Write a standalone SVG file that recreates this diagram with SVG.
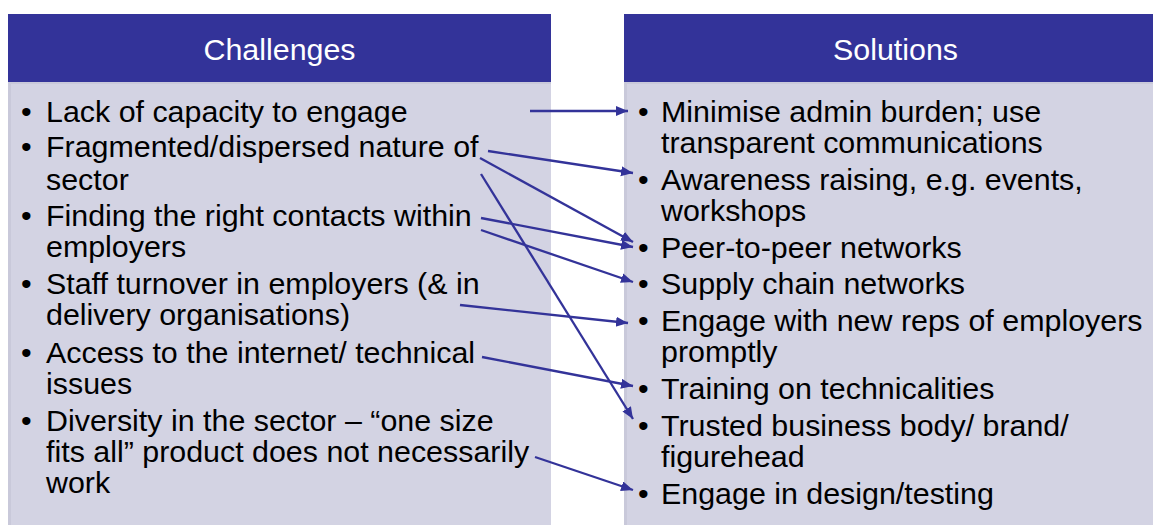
<svg xmlns="http://www.w3.org/2000/svg" width="1153" height="525" viewBox="0 0 1153 525">
  <defs>
    <style>
      .head { fill: #333399; }
      .body { fill: #D3D3E3; }
      .edge { fill: #C9C9DA; }
      .title { font-family: "Liberation Sans", Arial, sans-serif; font-size: 30.4px; fill: #FFFFFF; text-anchor: middle; }
      .item { font-family: "Liberation Sans", Arial, sans-serif; font-size: 30.4px; fill: #000000; }
      .link { stroke: #333399; stroke-width: 2.3; fill: none; marker-end: url(#arrow); }
    </style>
    <marker id="arrow" markerUnits="userSpaceOnUse" markerWidth="13" markerHeight="11" refX="12" refY="5" orient="auto">
      <path d="M0,0 L12,5 L0,10 Z" fill="#333399"/>
    </marker>
  </defs>

  <rect width="1153" height="525" fill="#FFFFFF"/>

  <!-- Left column: challenges -->
  <g id="challenges">
    <rect class="body" x="8" y="82" width="543" height="450"/>
    <rect class="edge" x="8" y="82" width="3" height="450"/>
    <rect class="edge" x="8" y="82" width="543" height="2"/>
    <rect class="head" x="8" y="14" width="543" height="68"/>
    <text class="title" x="279.5" y="60">Challenges</text>
    <g class="item">
      <text x="21" y="122">•</text><text x="46" y="122">Lack of capacity to engage</text>
      <text x="21" y="157">•</text><text x="46" y="157">Fragmented/dispersed nature of</text>
      <text x="46" y="189.5">sector</text>
      <text x="21" y="226">•</text><text x="46" y="226">Finding the right contacts within</text>
      <text x="46" y="257">employers</text>
      <text x="21" y="293.5">•</text><text x="46" y="293.5">Staff turnover in employers (&amp; in</text>
      <text x="46" y="325">delivery organisations)</text>
      <text x="21" y="362.5">•</text><text x="46" y="362.5">Access to the internet/ technical</text>
      <text x="46" y="393.5">issues</text>
      <text x="21" y="431">•</text><text x="46" y="431">Diversity in the sector – “one size</text>
      <text x="46" y="462">fits all” product does not necessarily</text>
      <text x="46" y="493">work</text>
    </g>
  </g>

  <!-- Right column: solutions -->
  <g id="solutions">
    <rect class="body" x="624" y="82" width="543" height="450"/>
    <rect class="edge" x="624" y="82" width="3" height="450"/>
    <rect class="edge" x="624" y="82" width="543" height="2"/>
    <rect class="head" x="624" y="14" width="543" height="68"/>
    <text class="title" x="895.5" y="60">Solutions</text>
    <g class="item">
      <text x="638" y="122">•</text><text x="661" y="122">Minimise admin burden; use</text>
      <text x="661" y="153">transparent communications</text>
      <text x="638" y="190">•</text><text x="661" y="190">Awareness raising, e.g. events,</text>
      <text x="661" y="221">workshops</text>
      <text x="638" y="258">•</text><text x="661" y="258">Peer-to-peer networks</text>
      <text x="638" y="294">•</text><text x="661" y="294">Supply chain networks</text>
      <text x="638" y="331">•</text><text x="661" y="331">Engage with new reps of employers</text>
      <text x="661" y="362">promptly</text>
      <text x="638" y="399">•</text><text x="661" y="399">Training on technicalities</text>
      <text x="638" y="436">•</text><text x="661" y="436">Trusted business body/ brand/</text>
      <text x="661" y="467">figurehead</text>
      <text x="638" y="504">•</text><text x="661" y="504">Engage in design/testing</text>
    </g>
  </g>

  <!-- Connectors from challenges to solutions -->
  <g id="connectors">
    <line class="link" x1="530" y1="111" x2="628" y2="111"/>
    <line class="link" x1="488" y1="151" x2="633" y2="173"/>
    <line class="link" x1="480" y1="158" x2="633" y2="242"/>
    <line class="link" x1="481" y1="174" x2="633" y2="419"/>
    <line class="link" x1="481" y1="218" x2="633" y2="247"/>
    <line class="link" x1="481" y1="230" x2="633" y2="282"/>
    <line class="link" x1="460" y1="305" x2="628" y2="323"/>
    <line class="link" x1="482" y1="357" x2="633" y2="386"/>
    <line class="link" x1="535" y1="457" x2="633" y2="490"/>
  </g>
</svg>
